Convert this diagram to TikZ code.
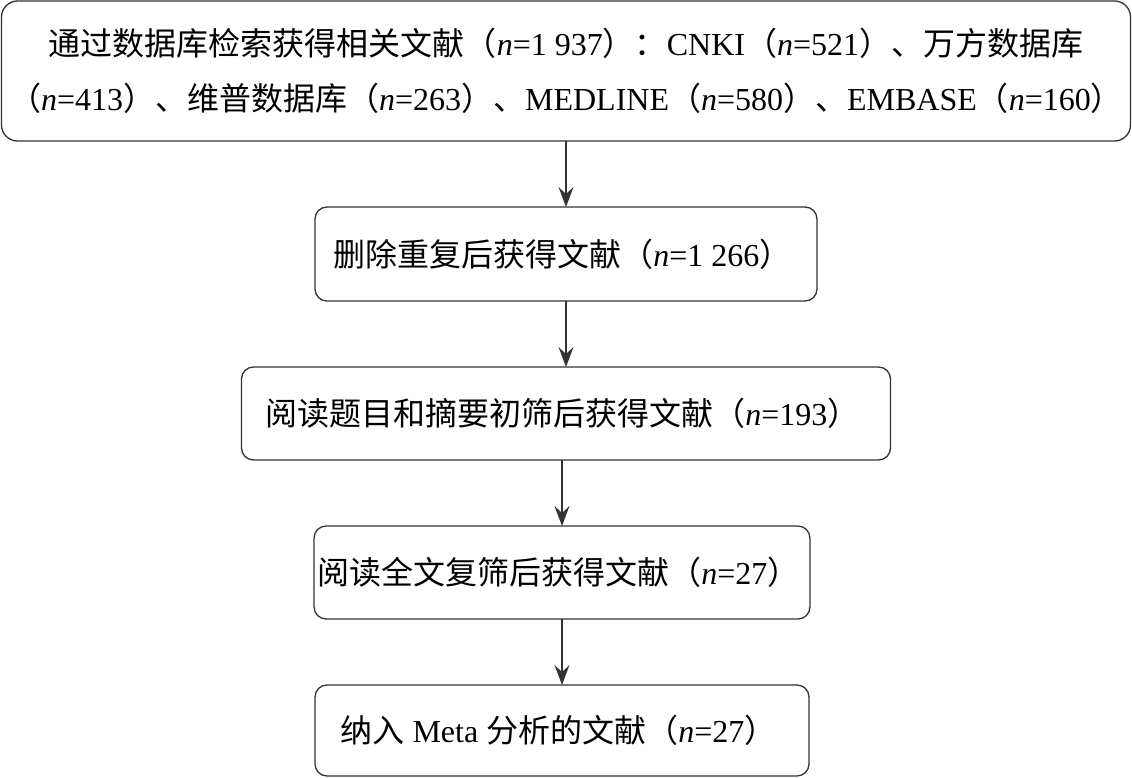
\documentclass[tikz,border=0pt]{standalone}
\usepackage{fontspec}
\setmainfont{Noto Sans CJK SC}
\newfontfamily\latinfont{Liberation Serif}
\usetikzlibrary{positioning, arrows.meta}

\newcommand\en[1]{{\latinfont #1}}
\newcommand\nval[1]{{\latinfont\textit{n}=#1}}

\begin{document}
\begin{tikzpicture}[%
    >={Stealth[length=20pt, width=15pt, inset=7pt]}, % concave heads as in the figure
    node distance=66pt,                              % gap between boxes
    ]

\tikzset{
  base/.style={align=center, outer sep=0pt, minimum height=93pt, font=\fontsize{32}{55}\selectfont},
  proc/.style={base, draw=black!80, line width=1.3pt, rounded corners=12pt},
  link/.style={->, draw=black!80, line width=1.3pt}
  };

\useasboundingbox (0,0) rectangle (1132pt,-778pt);

% Search
\node[proc, minimum width=1129pt, minimum height=140pt, rounded corners=16pt]
    (dbSearch) at (566pt,-71pt)
    { 通过数据库检索获得相关文献（\nval{1 937}）：\en{CNKI}（\nval{521}）、万方数据库\\
      （\nval{413}）、维普数据库（\nval{263}）、\en{MEDLINE}（\nval{580}）、\en{EMBASE}（\nval{160}） };

% Screening
\node[proc, minimum width=502pt, minimum height=94pt, below=of dbSearch] (dedup)
    { 删除重复后获得文献（\nval{1 266}） };
\node[proc, minimum width=649pt, below=of dedup] (titleScreen)
    { 阅读题目和摘要初筛后获得文献（\nval{193}） };
\node[proc, minimum width=494pt, below=of titleScreen, xshift=-4pt] (fullText)
    { 阅读全文复筛后获得文献（\nval{27}） };
\node[proc, minimum width=494pt, minimum height=91pt, below=of fullText] (included)
    { 纳入\en{ Meta }分析的文献（\nval{27}） };

\draw[link] (dbSearch) -- (dedup);
\draw[link] (dedup) -- (titleScreen);
\draw[link] (fullText.north |- titleScreen.south) -- (fullText);
\draw[link] (fullText) -- (included);

\end{tikzpicture}
\end{document}
